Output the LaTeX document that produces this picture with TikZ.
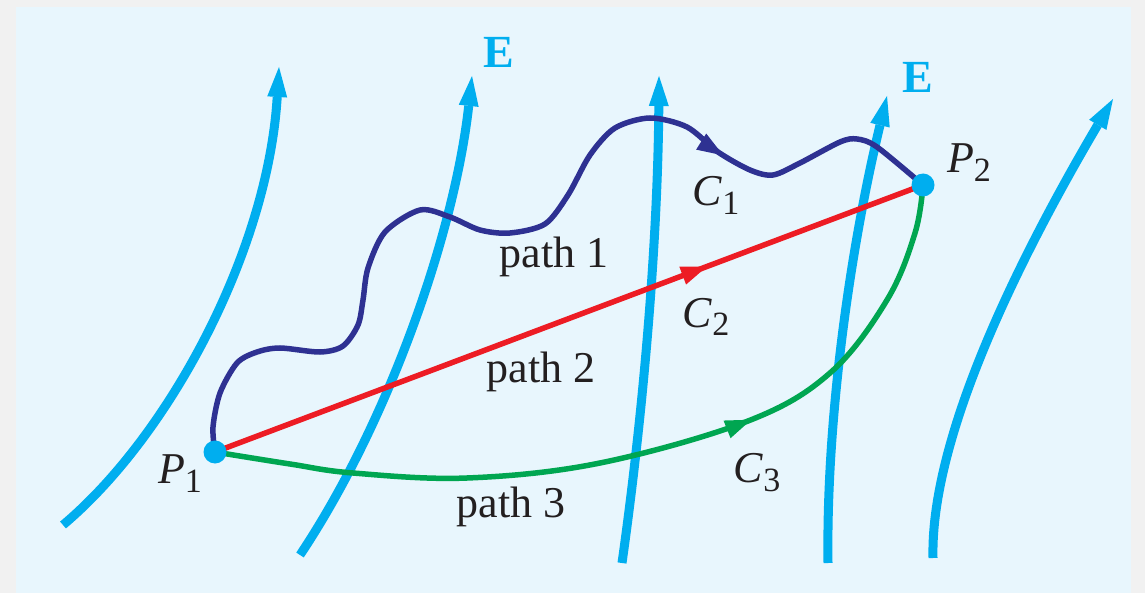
\documentclass[tikz,border=0pt]{standalone}
\usepackage{fontspec}
\setmainfont{Liberation Serif}
\usetikzlibrary{arrows.meta,decorations.markings}
\definecolor{bggray}{HTML}{F1F1F1}
\definecolor{panel}{HTML}{E8F6FD}
\definecolor{ecyan}{HTML}{00AEEF}
\definecolor{pnavy}{HTML}{2E3192}
\definecolor{pred}{HTML}{ED1C24}
\definecolor{pgreen}{HTML}{00A651}
\definecolor{ink}{HTML}{231F20}
\newcommand\lblsub[2]{\textit{#1}\raisebox{-9pt}{\fontsize{34}{34}\selectfont #2}}
\begin{document}
\begin{tikzpicture}[x=1pt,y=-1pt,
  field/.style={line width=9pt, color=ecyan, -{Triangle[length=30pt,width=20pt,line width=0pt]}},
  pathline/.style={line width=5.5pt},
  midarrow/.style={postaction={decorate}, decoration={markings,
      mark=at position #1 with {\arrow{Triangle[length=26pt,width=19pt,line width=0pt]}}}},
  lbl/.style={text=ink, inner sep=0pt, font=\fontsize{44}{50}\selectfont, anchor=base},
  elbl/.style={text=ecyan, inner sep=0pt, font=\fontsize{46}{50}\selectfont\bfseries, anchor=base},
  dot/.style={circle, fill=ecyan, minimum size=23pt, inner sep=0pt}]
\fill[bggray] (0,0) rectangle (1145,593);
\fill[panel] (16,7) rectangle (1131,593);
\useasboundingbox (0,0) rectangle (1145,593);
% field lines
\draw[field] (63,525) .. controls (170,435) and (268,250) .. (279,67);
\draw[field] (300,555) .. controls (390,420) and (455,230) .. (472,76);
\draw[field] (622,563) .. controls (645,400) and (658,230) .. (659,76);
\draw[field] (828,563) .. controls (826,420) and (850,250) .. (887,96);
\draw[field] (933,558) .. controls (930,430) and (1030,240) .. (1113,99);
% end points
\coordinate (P1) at (215,452);
\coordinate (P2) at (923,185);
% path 1
\draw[pathline, pnavy, midarrow=0.765] plot[smooth, tension=0.5] coordinates {(P1) (213,427) (220,393) (237,363) (257,352) (280,348) (320,352) (343,346) (358,325) (363,300) (368,268) (385,232) (420,210) (450,217) (480,230) (510,233) (545,224) (568,195) (590,155) (615,128) (650,118) (687,127) (718,152) (750,170) (773,175) (800,163) (840,142) (857,139) (877,147) (P2)};
% path 2
\draw[pathline, pred, midarrow=0.695] (P1) -- (P2);
% path 3
\draw[pathline, pgreen, midarrow=0.64] plot[smooth, tension=0.6] coordinates {(P1) (290,464) (353,473) (467,478) (600,463) (748,421) (830,373) (887,300) (915,233) (P2)};
% dots
\node[dot] (P1dot) at (P1) {};
\node[dot] (P2dot) at (P2) {};
% labels
\node[lbl] (p1lab) at (180,483) {\lblsub{P}{1}};
\node[lbl] (p2lab) at (969,173) {\lblsub{P}{2}};
\node[lbl] (c1lab) at (716,206) {\lblsub{C}{1}};
\node[lbl] (c2lab) at (706,327) {\lblsub{C}{2}};
\node[lbl] (c3lab) at (757,482) {\lblsub{C}{3}};
\node[lbl] (path1) at (554,268) {path 1};
\node[lbl] (path2) at (541,382) {path 2};
\node[lbl] (path3) at (511,517) {path 3};
\node[elbl] (e1) at (499,68) {E};
\node[elbl] (e2) at (918,93) {E};
\end{tikzpicture}
\end{document}
